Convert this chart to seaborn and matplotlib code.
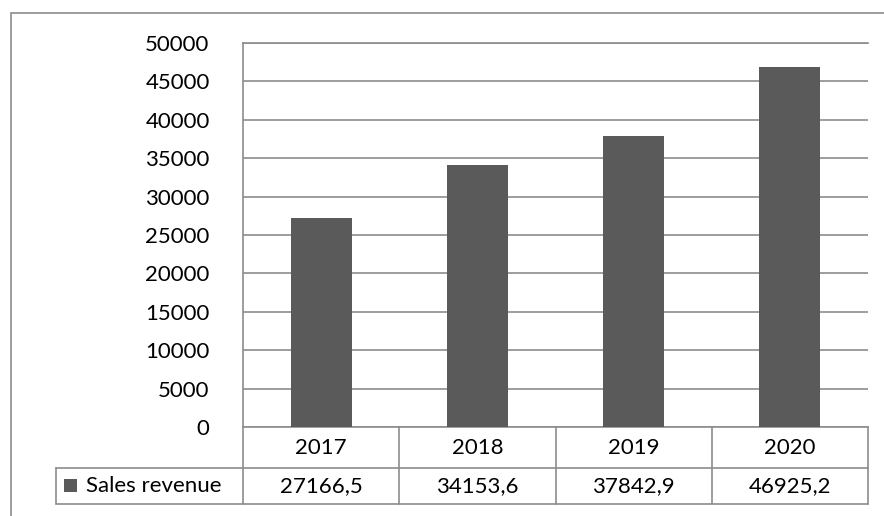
import matplotlib
matplotlib.use("Agg")
import matplotlib.pyplot as plt
import matplotlib.transforms as mtransforms
import seaborn as sns
import pandas as pd

years = ["2017", "2018", "2019", "2020"]
revenue = [27166.5, 34153.6, 37842.9, 46925.2]
revenue_labels = ["27166,5", "34153,6", "37842,9", "46925,2"]
series_name = "Sales revenue"
yticks = [0, 5000, 10000, 15000, 20000, 25000, 30000, 35000, 40000, 45000, 50000]

sns.set_theme(style="white")
plt.rcParams['font.family'] = ['Lato', 'DejaVu Sans']

W, H = 884, 516
fig = plt.figure(figsize=(W / 100, H / 100), dpi=100)
fig.patch.set_facecolor("white")

L, R, T, B = 243, 868, 43, 427
ax = fig.add_axes([L / W, 1 - B / H, (R - L) / W, (B - T) / H])

df = pd.DataFrame({"year": years, "revenue": revenue})
bar_color = "#5a5a5a"
sns.barplot(data=df, x="year", y="revenue", color=bar_color, width=0.39,
            saturation=1, ax=ax, zorder=3)
for p in ax.patches:
    p.set_edgecolor("none")

grid_c = "#8c8c8c"
ax.set_ylim(0, 50000)
ax.set_xlim(-0.5, 3.5)
ax.set_yticks(yticks)
ax.set_yticklabels([str(v) for v in yticks], fontsize=16, color="black")
ax.tick_params(axis="y", length=0, pad=24)
ax.set_xticks([])
ax.set_xlabel("")
ax.set_ylabel("")
ax.yaxis.grid(True, color=grid_c, linewidth=1.2, zorder=0)
ax.set_axisbelow(True)
for s in ["top", "right"]:
    ax.spines[s].set_visible(False)
ax.spines["top"].set_visible(True)
ax.spines["top"].set_color(grid_c)
ax.spines["left"].set_color(grid_c)
ax.spines["bottom"].set_color(grid_c)
for s in ["left", "bottom", "top"]:
    ax.spines[s].set_linewidth(1.2)

# Data table below the plot
def fx(px):
    return px / W

def fy(py):
    return 1 - py / H

line_kw = dict(color=grid_c, linewidth=1.2, transform=fig.transFigure, clip_on=False)
row1_bot, row2_bot = 468, 504
leg_left = 56
col_edges = [L + (R - L) * i / 4 for i in range(5)]
fig.add_artist(plt.Line2D([fx(leg_left), fx(R)], [fy(row1_bot)] * 2, **line_kw))
fig.add_artist(plt.Line2D([fx(leg_left), fx(R)], [fy(row2_bot)] * 2, **line_kw))
fig.add_artist(plt.Line2D([fx(leg_left)] * 2, [fy(row1_bot), fy(row2_bot)], **line_kw))
for xe in col_edges:
    fig.add_artist(plt.Line2D([fx(xe)] * 2, [fy(B), fy(row2_bot)], **line_kw))

blend = mtransforms.blended_transform_factory(ax.transData, fig.transFigure)
for i, (yr, lab) in enumerate(zip(years, revenue_labels)):
    fig.text(i, fy((B + row1_bot) / 2), yr, transform=blend, ha="center",
             va="center", fontsize=16, color="black")
    fig.text(i, fy((row1_bot + row2_bot) / 2), lab, transform=blend, ha="center",
             va="center", fontsize=16, color="black")

# legend key in table
fig.add_artist(plt.Rectangle((fx(64), fy(492)), 13 / W, 13 / H, facecolor=bar_color,
                             edgecolor="none", transform=fig.transFigure))
fig.text(fx(86), fy((row1_bot + row2_bot) / 2), series_name, ha="left", va="center",
         fontsize=16, color="black")

# outer chart border
fig.add_artist(plt.Rectangle((fx(11), fy(600)), (1000) / W, (600 - 13) / H,
                             facecolor="none", edgecolor="#8c8c8c", linewidth=1.2,
                             transform=fig.transFigure, clip_on=False))

fig.savefig("out.png", dpi=100, facecolor="white")
